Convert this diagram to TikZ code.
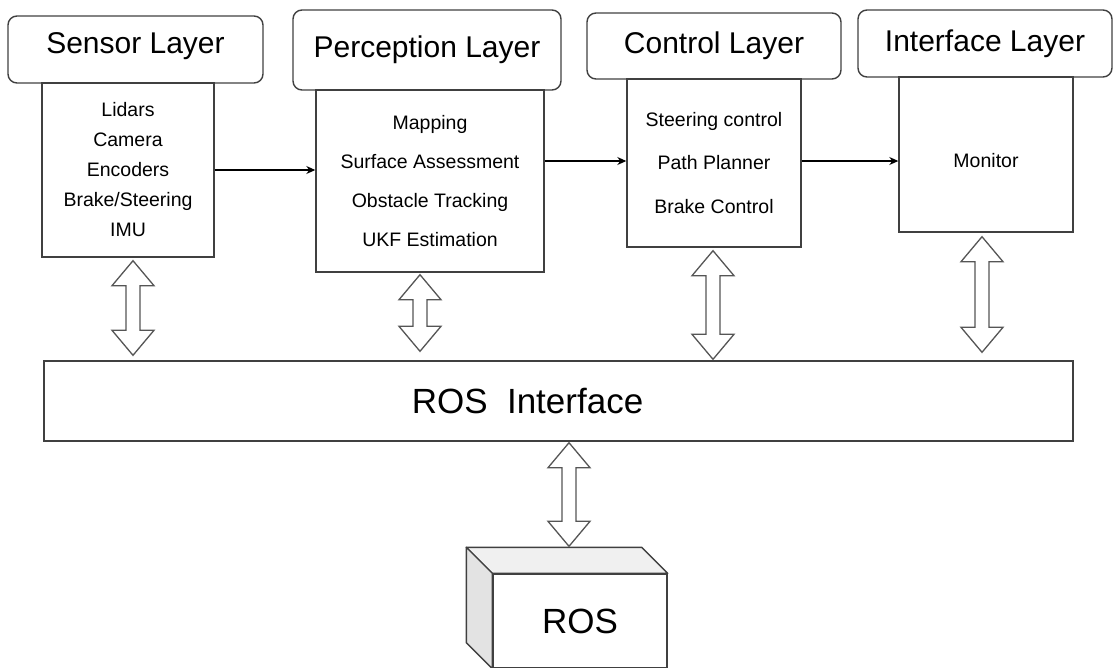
\documentclass[tikz,border=0pt]{standalone}
\usepackage{fontspec}
\setmainfont{Liberation Sans}
\usepackage{tikz}
\usetikzlibrary{arrows.meta, calc, positioning}

\definecolor{linegray}{HTML}{404040}
\definecolor{arrowgray}{HTML}{555555}
\definecolor{topgray}{HTML}{F0F0F0}
\definecolor{sidegray}{HTML}{E3E3E3}

% hollow double arrow between a top and a bottom point
\newcommand{\updown}[2]{%
    \path [fatarrow, draw] let \p1=#1, \p2=#2 in
        (\x1,\y1) -- (\x1+21pt,\y1-25pt) -- (\x1+7pt,\y1-25pt) -- (\x1+7pt,\y2+25pt)
        -- (\x1+21pt,\y2+25pt) -- (\x1,\y2) -- (\x1-21pt,\y2+25pt) -- (\x1-7pt,\y2+25pt)
        -- (\x1-7pt,\y1-25pt) -- (\x1-21pt,\y1-25pt) -- cycle;}

\begin{document}
\begin{tikzpicture}[x=1pt, y=-1pt,
    header/.style={rounded corners=9pt, rectangle, align=center, draw=linegray, line width=1.4pt, inner sep=0pt, font=\fontsize{30}{36}\selectfont},
    layerbox/.style={rectangle, align=center, draw=linegray, line width=1.4pt, inner sep=0pt},
    bodytext/.style={font=\fontsize{19.5}{24}\selectfont},
    flow/.style={-{Stealth[length=9pt, width=8pt]}, line width=1.1pt},
    fatarrow/.style={draw=arrowgray, fill=white, line width=1.3pt, line join=miter}]
    \useasboundingbox (0,0) rectangle (1114,667);

    \node [layerbox, minimum width=172pt, minimum height=174pt, font=\fontsize{19.5}{30}\selectfont] (sbody) at (128,170) {Lidars\\Camera\\Encoders\\Brake/Steering\\IMU};
    \node [layerbox, minimum width=228pt, minimum height=182pt, font=\fontsize{19.5}{39}\selectfont] (pbody) at (430,181) {Mapping\\Surface Assessment\\Obstacle Tracking\\UKF Estimation};
    \node [layerbox, minimum width=174pt, minimum height=168pt, font=\fontsize{19.5}{43.5}\selectfont] (cbody) at (714,163) {Steering control\\Path Planner\\Brake Control};
    \node [layerbox, minimum width=174pt, minimum height=155pt, label={[bodytext, yshift=-6.5pt]center:Monitor}] (ibody) at (986,154.5) {};

    \node [header, minimum width=255pt, minimum height=67pt, label={[font=\fontsize{30}{36}\selectfont, yshift=3pt]center:Sensor Layer}] (sensor) at (135.5,49.5) {};
    \node [header, minimum width=268pt, minimum height=80pt] (perception) at (427,50) {Perception Layer};
    \node [header, minimum width=254pt, minimum height=66pt] (control) at (714,46) {Control Layer};
    \node [header, minimum width=254pt, minimum height=67pt] (interface) at (985,43.5) {Interface Layer};

    \node [layerbox, minimum width=1029pt, minimum height=80pt, label={[font=\fontsize{35}{42}\selectfont, xshift=-31pt]center:ROS\ \ Interface}] (rosif) at (558.5,401) {};

    \node [layerbox, fill=white, minimum width=174pt, minimum height=94pt, font=\fontsize{35}{42}\selectfont] (ros) at (580,621) {ROS};
    \path [draw=linegray, line width=1.4pt, fill=topgray, line join=round] (ros.north west) -- ++(-26,-26) -- ([shift={(-26,-26)}]ros.north east) -- (ros.north east) -- cycle;
    \path [draw=linegray, line width=1.4pt, fill=sidegray, line join=round] (ros.north west) -- ++(-26,-26) -- ([shift={(-26,-26)}]ros.south west) -- (ros.south west) -- cycle;

    \coordinate (cin) at ([yshift=2pt]cbody.west);
    \path [flow, draw] (sbody.east) -- (sbody.east -| pbody.west);
    \path [flow, draw] (cin -| pbody.east) -- (cin);
    \path [flow, draw] (cin -| cbody.east) -- (cin -| ibody.west);

    \updown{([xshift=5pt, yshift=-3pt]sbody.south)}{([yshift=5pt]rosif.north)}
    \updown{([xshift=-10pt, yshift=-2pt]pbody.south)}{([yshift=9pt]rosif.north)}
    \updown{([xshift=-1pt, yshift=-3pt]cbody.south)}{([yshift=1pt]rosif.north)}
    \updown{([xshift=-4pt, yshift=-4pt]ibody.south)}{([yshift=8pt]rosif.north)}
    \updown{([xshift=10.5pt, yshift=-1pt]rosif.south)}{([yshift=27pt]ros.north)}
\end{tikzpicture}
\end{document}
